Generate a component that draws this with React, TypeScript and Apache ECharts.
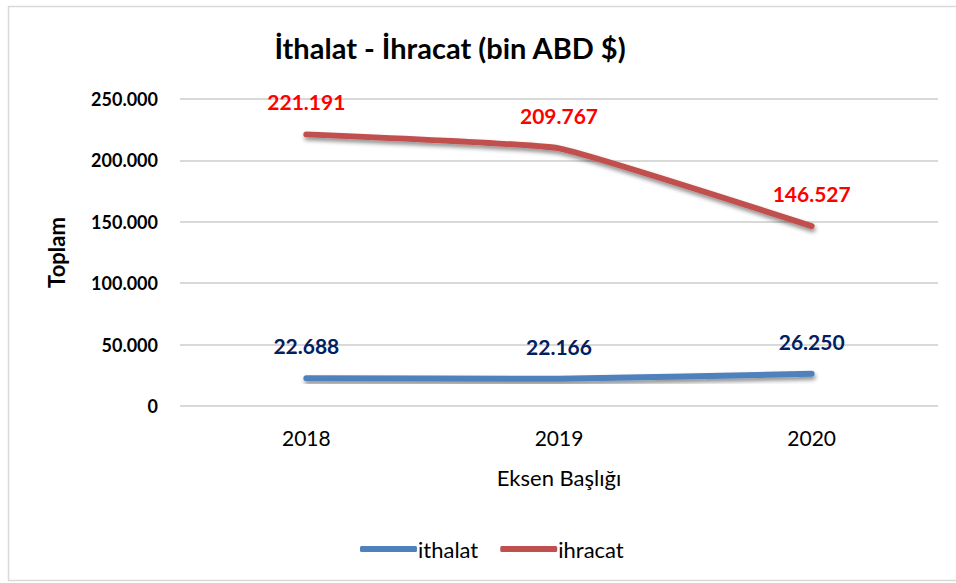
import React, { useEffect, useRef } from "react";
import * as echarts from "echarts";

const categories = ["2018", "2019", "2020"];
const ithalat = [22688, 22166, 26250];
const ihracat = [221191, 209767, 146527];
const seriesNames = ["ithalat", "ihracat"];

const fmt = (v: number) => String(Math.round(v)).replace(/\B(?=(\d{3})+(?!\d))/g, ".");

const FONT = "Lato, 'Open Sans', sans-serif";

export default function App() {
  const ref = useRef<HTMLDivElement>(null);
  useEffect(() => {
    if (!ref.current) return;
    const chart = echarts.init(ref.current, undefined, { renderer: "svg" });
    const shadow = {
      shadowColor: "rgba(0,0,0,0.45)",
      shadowBlur: 4,
      shadowOffsetX: 1,
      shadowOffsetY: 3,
    };
    const mkLabel = (color: string) => ({
      show: true,
      position: "top",
      distance: 21,
      fontFamily: FONT,
      fontSize: 21,
      fontWeight: "bold",
      color,
      formatter: (p: any) => fmt(p.value),
    });
    chart.setOption({
      animation: false,
      backgroundColor: "#fff",
      textStyle: { fontFamily: FONT },
      graphic: [
        {
          type: "rect",
          shape: { x: 8.5, y: 6.5, width: 960, height: 574 },
          style: { fill: "none", stroke: "#d9d9d9", lineWidth: 1.5 },
          silent: true,
          z: -1,
        },
      ],
      title: {
        text: "İthalat - İhracat (bin ABD $)",
        left: 445,
        textAlign: "center",
        top: 28,
        textStyle: { fontFamily: FONT, fontWeight: "bold", fontSize: 29, color: "#000" },
      },
      legend: {
        data: seriesNames,
        left: 355,
        top: 533,
        icon: "roundRect",
        itemWidth: 57,
        itemHeight: 6,
        itemGap: 22,
        textStyle: { fontFamily: FONT, fontSize: 22, color: "#000", padding: [0, 0, 0, -4] },
      },
      grid: { left: 180, right: 18, top: 99, bottom: 177 },
      xAxis: {
        type: "category",
        data: categories,
        boundaryGap: true,
        name: "Eksen Başlığı",
        nameLocation: "middle",
        nameGap: 60,
        nameTextStyle: { fontFamily: FONT, fontSize: 22, color: "#000" },
        axisLine: { show: false },
        axisTick: { show: false },
        axisLabel: { fontFamily: FONT, fontSize: 21, color: "#000", margin: 21 },
      },
      yAxis: {
        type: "value",
        min: 0,
        max: 250000,
        interval: 50000,
        name: "Toplam",
        nameLocation: "middle",
        nameGap: 113,
        nameTextStyle: { fontFamily: FONT, fontSize: 22, fontWeight: "bold", color: "#000" },
        axisLine: { show: false },
        axisTick: { show: false },
        splitLine: { lineStyle: { color: "#d9d9d9", width: 2 } },
        axisLabel: {
          fontFamily: FONT,
          fontSize: 18,
          fontWeight: "bold",
          color: "#000",
          margin: 22,
          formatter: (v: number) => fmt(v),
        },
      },
      series: [
        {
          name: seriesNames[0],
          type: "line",
          data: ithalat,
          smooth: 0.1,
          symbol: "circle",
          symbolSize: 2,
          showSymbol: true,
          color: "#4f81bd",
          itemStyle: { color: "#4f81bd" },
          lineStyle: { width: 6, color: "#4f81bd", cap: "round", join: "round", ...shadow },
          label: mkLabel("#002060"),
        },
        {
          name: seriesNames[1],
          type: "line",
          data: ihracat,
          smooth: 0.1,
          symbol: "circle",
          symbolSize: 2,
          showSymbol: true,
          color: "#c0504d",
          itemStyle: { color: "#c0504d" },
          lineStyle: { width: 6, color: "#c0504d", cap: "round", join: "round", ...shadow },
          label: mkLabel("#ff0000"),
        },
      ],
    });
    return () => chart.dispose();
  }, []);
  return (
    <div
      ref={ref}
      style={{ position: "fixed", left: 0, top: 0, width: 956, height: 583 }}
    />
  );
}
